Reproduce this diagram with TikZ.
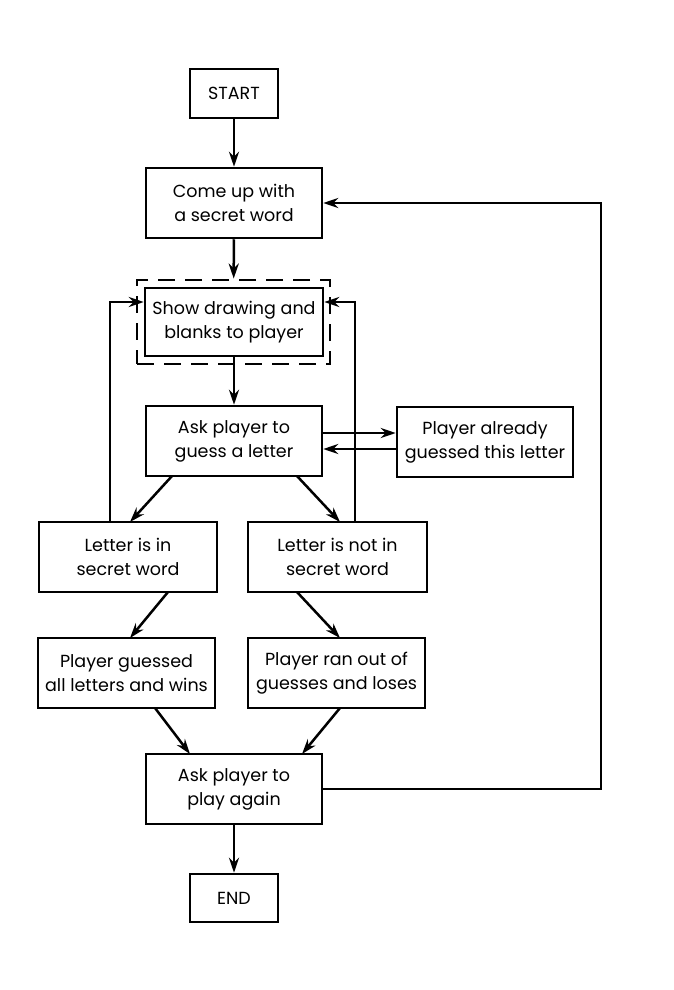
\documentclass[tikz,border=0pt]{standalone}
\usepackage{fontspec}
\setmainfont{Poppins}
\usetikzlibrary{arrows.meta}
\begin{document}
\begin{tikzpicture}[x=1pt,y=-1pt,
  box/.style={draw,line width=2.5pt,minimum width=176pt,minimum height=70pt,align=center,inner sep=0pt,font=\fontsize{17.5}{24}\selectfont},
  smallbox/.style={box,minimum width=88pt,minimum height=49pt},
  arr/.style={line width=2.5pt,-{Stealth[length=15pt,width=10pt]}},
  ln/.style={line width=2.5pt}]
\useasboundingbox (0,0) rectangle (674,990);
\node[smallbox] (start) at (234,93.5) {START};
\node[box] (come) at (234,203) {Come up with\\a secret word};
\node[box,minimum width=178pt,minimum height=68pt] (show) at (234,322) {Show drawing and\\blanks to player};
\node[draw,dashed,line width=2.8pt,dash pattern=on 17pt off 10pt,minimum width=193pt,minimum height=84pt,inner sep=0pt] (dash) at (233.5,322) {};
\node[box] (ask) at (234,441) {Ask player to\\guess a letter};
\node[box] (already) at (485,442) {Player already\\guessed this letter};
\node[box,minimum width=178pt] (in) at (128,557) {Letter is in\\secret word};
\node[box,minimum width=179pt] (notin) at (337.5,557) {Letter is not in\\secret word};
\node[box,minimum width=177pt] (wins) at (126.5,673) {Player guessed\\all letters and wins};
\node[box,minimum width=177pt] (loses) at (336.5,673) {Player ran out of\\guesses and loses};
\node[box] (again) at (234,789) {Ask player to\\play again};
\node[smallbox,minimum height=48pt] (end) at (234,898) {END};
\coordinate (lt) at (110,302);
\coordinate (rt) at (355,302);
\coordinate (far) at (601,203);
\coordinate (up) at (0,433);
\coordinate (dn) at (0,449);
\draw[arr] (start) -- (come);
\draw[arr] (come) -- (dash);
\draw[arr] (show) -- (ask);
\draw[arr] (up -| ask.east) -- (up -| already.west);
\draw[arr] (dn -| already.west) -- (dn -| ask.east);
\draw[arr] (172,476) -- (130,522);
\draw[arr] (297,476) -- (340,522);
\draw[arr] (168,592) -- (130,638);
\draw[arr] (297,592) -- (340,638);
\draw[arr] (155,708) -- (190,754);
\draw[arr] (340,708) -- (302,754);
\draw[arr] (again) -- (end);
\draw[arr] (in.north -| lt) -- (lt) -- (lt -| show.west);
\draw[arr] (notin.north -| rt) -- (rt) -- (rt -| show.east);
\draw[arr] (again.east) -- (again.east -| far) -- (far) -- (come.east);
\end{tikzpicture}
\end{document}
